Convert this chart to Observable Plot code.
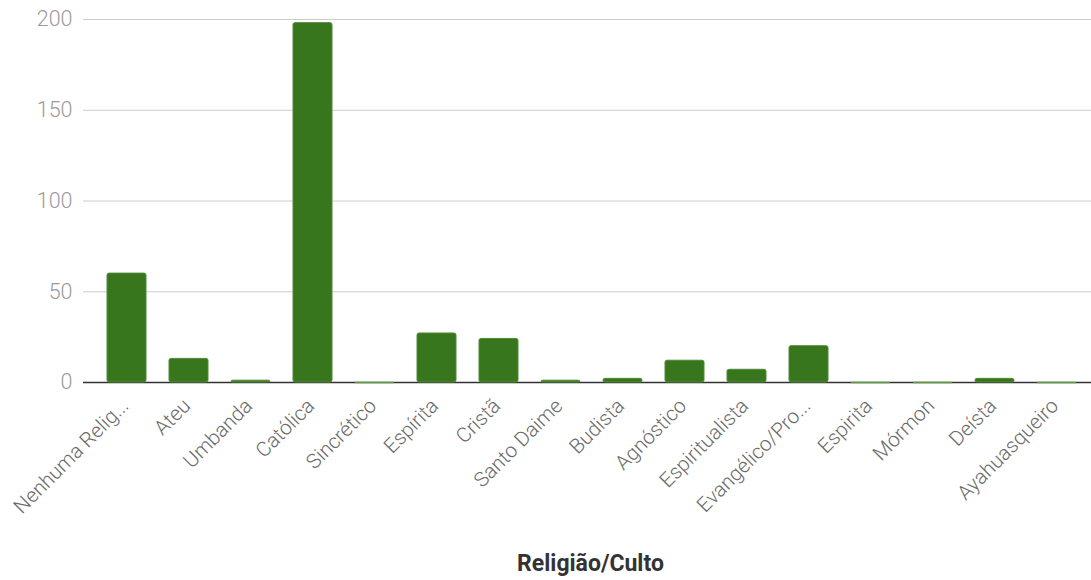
<!DOCTYPE html>
<html>
<head>
<meta charset="utf-8">
<script src="https://cdn.jsdelivr.net/npm/d3@7"></script>
<script src="https://cdn.jsdelivr.net/npm/@observablehq/plot@0.6"></script>
<style>
  html, body { margin: 0; padding: 0; background: #fff; }
</style>
</head>
<body>
<div id="chart"></div>
<script>
const categories = [
  "Nenhuma Relig...", "Ateu", "Umbanda", "Católica", "Sincrético", "Espírita",
  "Cristã", "Santo Daime", "Budista", "Agnóstico", "Espiritualista",
  "Evangélico/Pro...", "Espirita", "Mórmon", "Deísta", "Ayahuasqueiro"
];
const values = [60, 13, 1, 198, 0, 27, 24, 1, 2, 12, 7, 20, 0, 0, 2, 0];
const yTicks = [0, 50, 100, 150, 200];
const xTitle = "Religião/Culto";

const data = categories.map((c, i) => ({cat: c, value: values[i]}));

const chart = Plot.plot({
  width: 1091,
  height: 580,
  marginLeft: 83,
  marginRight: 0,
  marginTop: 19,
  marginBottom: 198,
  style: {fontFamily: "Roboto, sans-serif", background: "#fff"},
  x: {domain: categories, range: [95, 1089], paddingInner: 0.37, paddingOuter: 0.185, label: null},
  y: {domain: [0, 200], label: null},
  marks: [
    Plot.gridY(yTicks, {stroke: "#cccccc", strokeOpacity: 1, strokeWidth: 1}),
    Plot.axisY(yTicks, {tickSize: 0, tickPadding: 11, fontSize: 21.5, fontWeight: 300, color: "#9a9a9a", label: null}),
    Plot.ruleY([0], {stroke: "#333333", strokeWidth: 1.5}),
    Plot.barY(data, {x: "cat", y: "value", fill: "#38761d", stroke: "#4f8a35", strokeWidth: 1, rx: 2}),
    Plot.tickY(data, {filter: d => d.value === 0, x: "cat", y: "value", stroke: "#5b9a3d", strokeWidth: 1.5}),
    Plot.axisX({tickSize: 0, tickRotate: -45, tickPadding: 20, dx: -2, fontSize: 20.5, fontWeight: 300, color: "#6a6a6a", label: null}),
    Plot.text([xTitle], {frameAnchor: "bottom", dy: 188, dx: 3, fontSize: 23, fontWeight: "bold", fill: "#333333"})
  ]
});
document.getElementById("chart").appendChild(chart);
</script>
</body>
</html>
